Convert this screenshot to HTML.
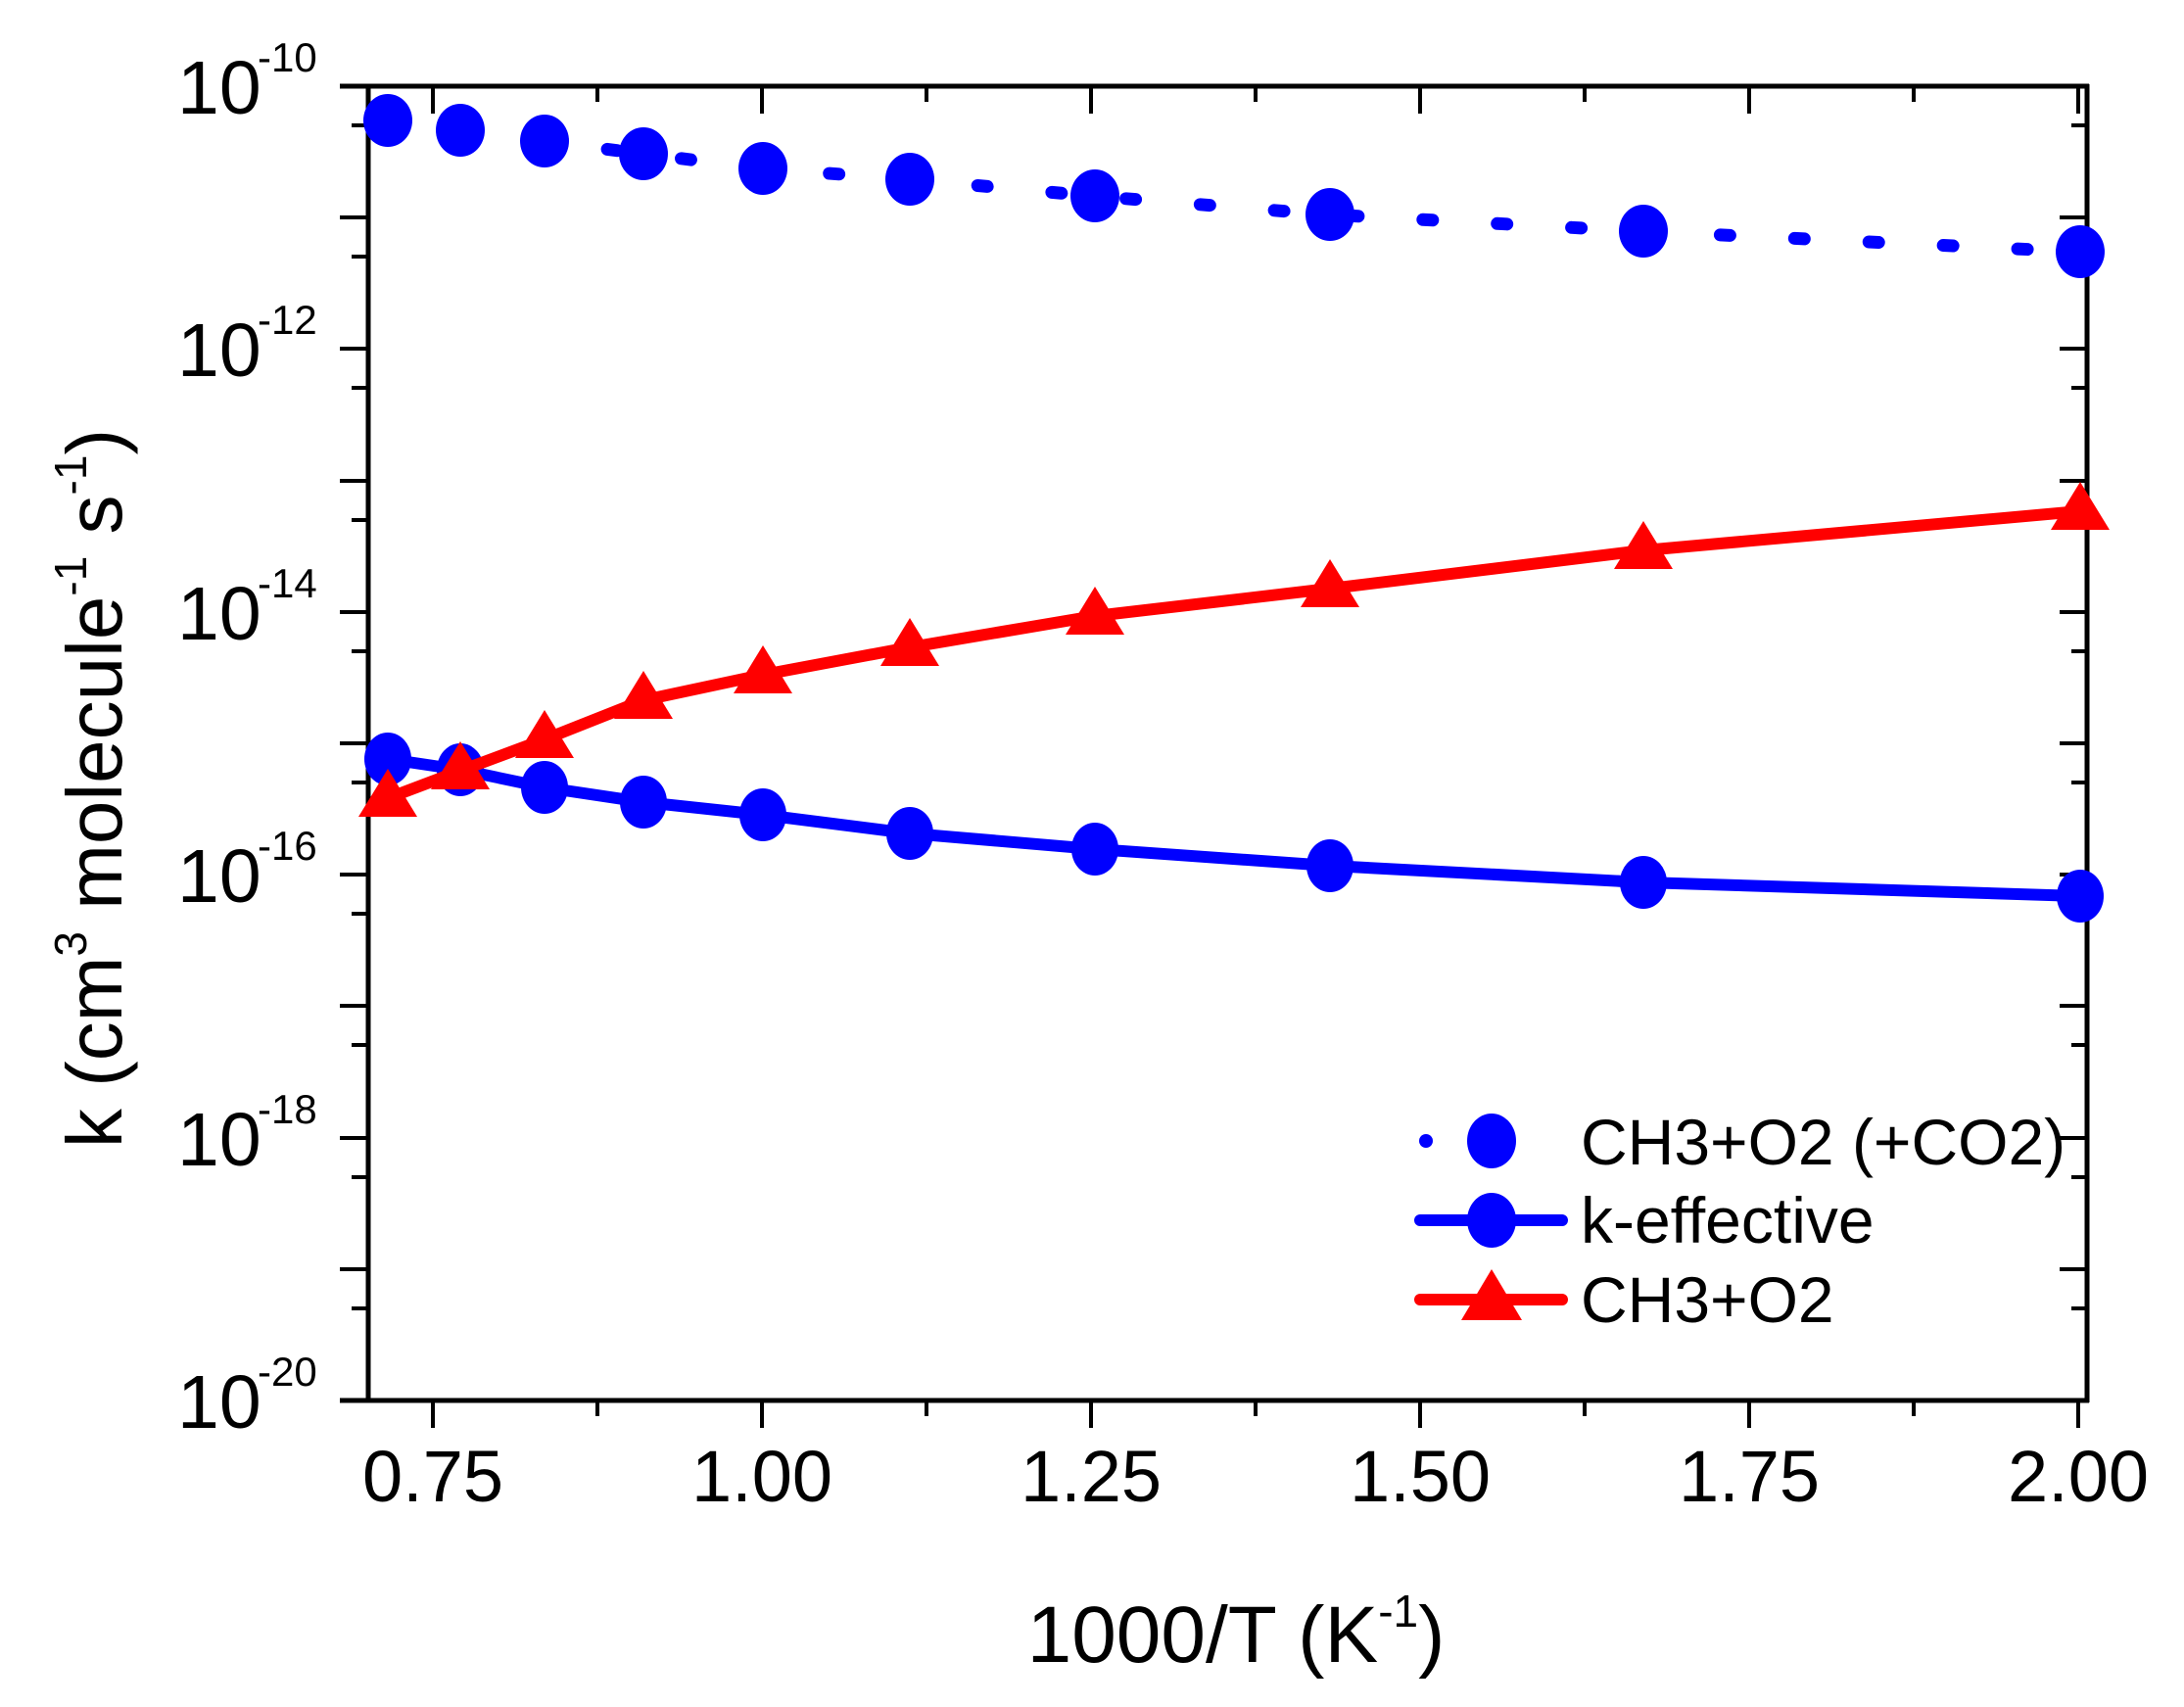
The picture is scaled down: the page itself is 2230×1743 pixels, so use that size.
<!DOCTYPE html>
<html><head><meta charset="utf-8"><style>
html,body{margin:0;padding:0;background:#fff;}
svg{display:block;font-family:"Liberation Sans",Arial,sans-serif;}
</style></head><body>
<svg width="2230" height="1743" viewBox="0 0 2230 1743" xmlns="http://www.w3.org/2000/svg">
<rect width="2230" height="1743" fill="#fff"/>
<g stroke="#000" stroke-width="5" fill="none">
<line x1="347" y1="1430" x2="2133" y2="1430"/>
<line x1="347" y1="88" x2="2133" y2="88"/>
<line x1="376" y1="86" x2="376" y2="1432"/>
<line x1="2131" y1="86" x2="2131" y2="1432"/>
</g>
<g stroke="#000" stroke-width="4">
<line x1="442" y1="1430" x2="442" y2="1458"/><line x1="442" y1="88" x2="442" y2="116"/>
<line x1="778" y1="1430" x2="778" y2="1458"/><line x1="778" y1="88" x2="778" y2="116"/>
<line x1="1114" y1="1430" x2="1114" y2="1458"/><line x1="1114" y1="88" x2="1114" y2="116"/>
<line x1="1450" y1="1430" x2="1450" y2="1458"/><line x1="1450" y1="88" x2="1450" y2="116"/>
<line x1="1786" y1="1430" x2="1786" y2="1458"/><line x1="1786" y1="88" x2="1786" y2="116"/>
<line x1="2122" y1="1430" x2="2122" y2="1458"/><line x1="2122" y1="88" x2="2122" y2="116"/>
<line x1="610" y1="1430" x2="610" y2="1446"/><line x1="610" y1="88" x2="610" y2="104"/>
<line x1="946" y1="1430" x2="946" y2="1446"/><line x1="946" y1="88" x2="946" y2="104"/>
<line x1="1282" y1="1430" x2="1282" y2="1446"/><line x1="1282" y1="88" x2="1282" y2="104"/>
<line x1="1618" y1="1430" x2="1618" y2="1446"/><line x1="1618" y1="88" x2="1618" y2="104"/>
<line x1="1954" y1="1430" x2="1954" y2="1446"/><line x1="1954" y1="88" x2="1954" y2="104"/>
<line x1="347" y1="88" x2="376" y2="88"/><line x1="2103" y1="88" x2="2131" y2="88"/>
<line x1="347" y1="222" x2="376" y2="222"/><line x1="2103" y1="222" x2="2131" y2="222"/>
<line x1="347" y1="356" x2="376" y2="356"/><line x1="2103" y1="356" x2="2131" y2="356"/>
<line x1="347" y1="491" x2="376" y2="491"/><line x1="2103" y1="491" x2="2131" y2="491"/>
<line x1="347" y1="625" x2="376" y2="625"/><line x1="2103" y1="625" x2="2131" y2="625"/>
<line x1="347" y1="759" x2="376" y2="759"/><line x1="2103" y1="759" x2="2131" y2="759"/>
<line x1="347" y1="893" x2="376" y2="893"/><line x1="2103" y1="893" x2="2131" y2="893"/>
<line x1="347" y1="1027" x2="376" y2="1027"/><line x1="2103" y1="1027" x2="2131" y2="1027"/>
<line x1="347" y1="1162" x2="376" y2="1162"/><line x1="2103" y1="1162" x2="2131" y2="1162"/>
<line x1="347" y1="1296" x2="376" y2="1296"/><line x1="2103" y1="1296" x2="2131" y2="1296"/>
<line x1="359" y1="128" x2="376" y2="128"/><line x1="2115" y1="128" x2="2131" y2="128"/>
<line x1="359" y1="262" x2="376" y2="262"/><line x1="2115" y1="262" x2="2131" y2="262"/>
<line x1="359" y1="396" x2="376" y2="396"/><line x1="2115" y1="396" x2="2131" y2="396"/>
<line x1="359" y1="531" x2="376" y2="531"/><line x1="2115" y1="531" x2="2131" y2="531"/>
<line x1="359" y1="665" x2="376" y2="665"/><line x1="2115" y1="665" x2="2131" y2="665"/>
<line x1="359" y1="799" x2="376" y2="799"/><line x1="2115" y1="799" x2="2131" y2="799"/>
<line x1="359" y1="933" x2="376" y2="933"/><line x1="2115" y1="933" x2="2131" y2="933"/>
<line x1="359" y1="1067" x2="376" y2="1067"/><line x1="2115" y1="1067" x2="2131" y2="1067"/>
<line x1="359" y1="1202" x2="376" y2="1202"/><line x1="2115" y1="1202" x2="2131" y2="1202"/>
<line x1="359" y1="1336" x2="376" y2="1336"/><line x1="2115" y1="1336" x2="2131" y2="1336"/>
</g>
<g font-size="74" text-anchor="middle" fill="#000">
<text x="442" y="1533">0.75</text>
<text x="778" y="1533">1.00</text>
<text x="1114" y="1533">1.25</text>
<text x="1450" y="1533">1.50</text>
<text x="1786" y="1533">1.75</text>
<text x="2122" y="1533">2.00</text>
</g>
<g fill="#000">
<text x="181" y="116" font-size="77">10</text><text x="263" y="73" font-size="42">-10</text>
<text x="181" y="384" font-size="77">10</text><text x="263" y="341" font-size="42">-12</text>
<text x="181" y="653" font-size="77">10</text><text x="263" y="610" font-size="42">-14</text>
<text x="181" y="921" font-size="77">10</text><text x="263" y="878" font-size="42">-16</text>
<text x="181" y="1190" font-size="77">10</text><text x="263" y="1147" font-size="42">-18</text>
<text x="181" y="1458" font-size="77">10</text><text x="263" y="1415" font-size="42">-20</text>
</g>
<text x="1262" y="1697" font-size="82" text-anchor="middle" fill="#000">1000/T (K<tspan font-size="46" dy="-36">-1</tspan><tspan dy="36">)</tspan></text>
<text transform="translate(124,805) rotate(-90)" font-size="80" text-anchor="middle" fill="#000">k (cm<tspan font-size="46" dy="-36">3</tspan><tspan dy="36"> molecule</tspan><tspan font-size="46" dy="-36">-1</tspan><tspan dy="36"> s</tspan><tspan font-size="46" dy="-36">-1</tspan><tspan dy="36">)</tspan></text>
<polyline points="394,123 468,133 554,144 656,157 778,172 927,183 1114,200 1354,219 1674,236 2122,257" fill="none" stroke="#0000ff" stroke-width="13" stroke-linecap="round" stroke-dasharray="10 66"/>
<g fill="#0000ff">
<ellipse cx="396" cy="123" rx="25" ry="27"/><ellipse cx="470" cy="133" rx="25" ry="27"/><ellipse cx="556" cy="144" rx="25" ry="27"/><ellipse cx="657" cy="157" rx="25" ry="27"/><ellipse cx="779" cy="172" rx="25" ry="27"/><ellipse cx="929" cy="183" rx="25" ry="27"/><ellipse cx="1118" cy="200" rx="25" ry="27"/><ellipse cx="1358" cy="219" rx="25" ry="27"/><ellipse cx="1678" cy="236" rx="25" ry="27"/><ellipse cx="2124" cy="257" rx="25" ry="27"/>
</g>
<polyline points="396,775 470,786 556,804 657,819 779,832 929,851 1118,867 1358,884 1678,901 2124,915" fill="none" stroke="#0000ff" stroke-width="12" stroke-linejoin="round"/>
<g fill="#0000ff">
<ellipse cx="396" cy="775" rx="24" ry="27"/><ellipse cx="470" cy="786" rx="24" ry="27"/><ellipse cx="556" cy="804" rx="24" ry="27"/><ellipse cx="657" cy="819" rx="24" ry="27"/><ellipse cx="779" cy="832" rx="24" ry="27"/><ellipse cx="929" cy="851" rx="24" ry="27"/><ellipse cx="1118" cy="867" rx="24" ry="27"/><ellipse cx="1358" cy="884" rx="24" ry="27"/><ellipse cx="1678" cy="901" rx="24" ry="27"/><ellipse cx="2124" cy="915" rx="24" ry="27"/>
</g>
<polyline points="396,815 470,787 556,755 657,715 779,689 929,661 1118,629 1358,601 1678,562 2124,522" fill="none" stroke="#ff0000" stroke-width="12" stroke-linejoin="round"/>
<g fill="#ff0000">
<polygon points="396,785 366,834 426,834"/><polygon points="470,757 440,806 500,806"/><polygon points="556,725 526,774 586,774"/><polygon points="657,685 627,734 687,734"/><polygon points="779,659 749,708 809,708"/><polygon points="929,631 899,680 959,680"/><polygon points="1118,599 1088,648 1148,648"/><polygon points="1358,571 1328,620 1388,620"/><polygon points="1678,532 1648,581 1708,581"/><polygon points="2124,492 2094,541 2154,541"/>
</g>
<circle cx="1456" cy="1165" r="7" fill="#0000ff"/>
<ellipse cx="1523" cy="1165" rx="25" ry="28" fill="#0000ff"/>
<line x1="1450" y1="1246" x2="1595" y2="1246" stroke="#0000ff" stroke-width="12" stroke-linecap="round"/>
<ellipse cx="1523" cy="1246" rx="25" ry="28" fill="#0000ff"/>
<line x1="1450" y1="1327" x2="1595" y2="1327" stroke="#ff0000" stroke-width="12" stroke-linecap="round"/>
<polygon points="1523,1296 1492,1348 1554,1348" fill="#ff0000"/>
<g font-size="66" fill="#000">
<text x="1614" y="1189">CH3+O2 (+CO2)</text>
<text x="1614" y="1269">k-effective</text>
<text x="1614" y="1350">CH3+O2</text>
</g>
</svg>
</body></html>
